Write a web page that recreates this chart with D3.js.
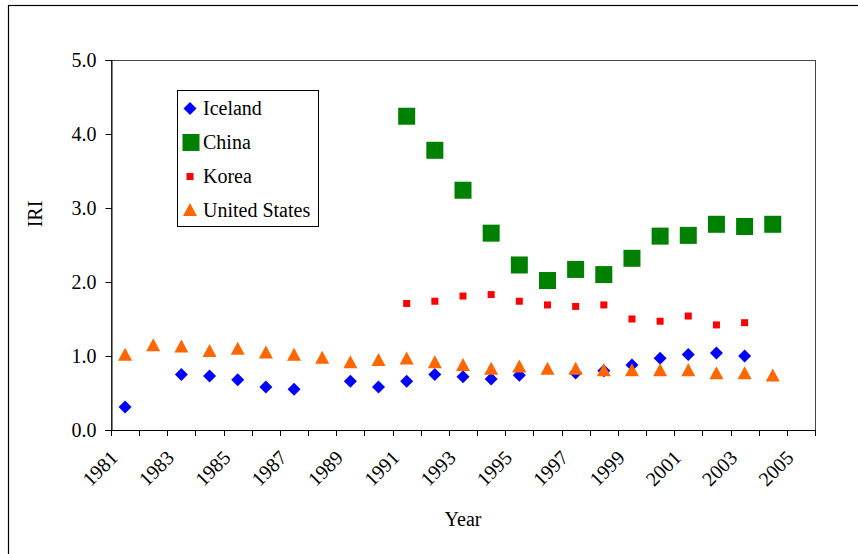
<!DOCTYPE html>
<html>
<head>
<meta charset="utf-8">
<script src="https://cdn.jsdelivr.net/npm/d3@7"></script>
<style>
  html, body { margin: 0; padding: 0; background: #fff; }
  svg { display: block; }
  svg text { font-family: "Liberation Serif", "Times New Roman", serif !important; fill: #000; }
</style>
</head>
<body>
<svg id="chart" width="858" height="554"></svg>
<script>
// Years on the category axis
const years = d3.range(1981, 2006);
const yearLabels = years.filter(y => (y - 1981) % 2 === 0);

// IRI by country (null = no observation)
const iceland = [0.31, null, 0.75, 0.73, 0.68, 0.58, 0.55, null, 0.66, 0.58, 0.66, 0.75, 0.72,
                 0.69, 0.74, null, 0.77, 0.80, 0.88, 0.97, 1.02, 1.04, 1.00, null, null];
const china   = [null, null, null, null, null, null, null, null, null, null, 4.24, 3.78, 3.24,
                 2.66, 2.23, 2.02, 2.17, 2.10, 2.32, 2.62, 2.63, 2.78, 2.75, 2.78, null];
const korea   = [null, null, null, null, null, null, null, null, null, null, 1.71, 1.74, 1.81,
                 1.83, 1.74, 1.69, 1.67, 1.69, 1.50, 1.47, 1.54, 1.42, 1.45, null, null];
const usa     = [1.01, 1.14, 1.12, 1.06, 1.09, 1.04, 1.01, 0.97, 0.91, 0.94, 0.96, 0.91, 0.87,
                 0.82, 0.85, 0.82, 0.82, 0.80, 0.80, 0.80, 0.80, 0.76, 0.76, 0.73, null];

const yTicks = [0, 1, 2, 3, 4, 5];

const series = [
  { name: "Iceland",       values: iceland, shape: "diamond",  color: "#0000ff" },
  { name: "China",         values: china,   shape: "bigsq",    color: "#008000" },
  { name: "Korea",         values: korea,   shape: "smallsq",  color: "#ff0000" },
  { name: "United States", values: usa,     shape: "triangle", color: "#ff6600" }
];

const FONT = "'Liberation Serif', 'Times New Roman', serif";
const svg = d3.select("#chart");
const plot = { left: 111, right: 815, top: 60, bottom: 430 };

const x = d3.scaleBand().domain(years).range([plot.left, plot.right]).paddingInner(0).paddingOuter(0);
const y = d3.scaleLinear().domain([0, 5]).range([plot.bottom, plot.top]);

// Outer chart frame (runs off the right and bottom edges)
svg.append("rect")
  .attr("x", 8.5).attr("y", 5.5).attr("width", 870).attr("height", 570)
  .attr("fill", "none").attr("stroke", "#000").attr("stroke-width", 1.2);

// Plot-area border
svg.append("rect")
  .attr("x", plot.left + 0.5).attr("y", plot.top + 0.5)
  .attr("width", plot.right - plot.left).attr("height", plot.bottom - plot.top)
  .attr("fill", "#fff").attr("stroke", "#444").attr("stroke-width", 1);

// Y axis
const yAxis = d3.axisLeft(y).tickValues(yTicks).tickFormat(d3.format(".1f")).tickSize(6).tickPadding(9);
const gy = svg.append("g").attr("transform", `translate(${plot.left + 0.5},0)`).call(yAxis)
  .attr("font-family", FONT).attr("font-size", 20);
gy.select(".domain").attr("stroke", "#000");
gy.selectAll(".tick line").attr("stroke", "#000");
gy.selectAll(".tick text").style("font-family", FONT).style("font-size", "20px");

// X axis: tick marks between categories, labels on alternate years
const gx = svg.append("g");
gx.append("line")
  .attr("x1", plot.left).attr("x2", plot.right + 1)
  .attr("y1", plot.bottom + 0.5).attr("y2", plot.bottom + 0.5)
  .attr("stroke", "#000");
const edges = years.map(d => x(d)).concat([x(years[years.length - 1]) + x.bandwidth()]);
gx.selectAll("line.tk").data(edges).join("line").attr("class", "tk")
  .attr("x1", d => Math.round(d) + 0.5).attr("x2", d => Math.round(d) + 0.5)
  .attr("y1", plot.bottom).attr("y2", plot.bottom + 6)
  .attr("stroke", "#000");
gx.selectAll("text.yl").data(yearLabels).join("text").attr("class", "yl")
  .attr("transform", d => `translate(${x(d) + x.bandwidth() / 2 - 6},${plot.bottom + 29}) rotate(-45)`)
  .attr("text-anchor", "end")
  .style("font-family", FONT).style("font-size", "20px")
  .text(d => d);

// Axis titles
svg.append("text")
  .attr("x", (plot.left + plot.right) / 2).attr("y", 526)
  .attr("text-anchor", "middle").style("font-family", FONT).style("font-size", "20px").text("Year");
svg.append("text")
  .attr("transform", "translate(42,214) rotate(-90)")
  .attr("text-anchor", "middle").style("font-family", FONT).style("font-size", "20px").text("IRI");

// Marker drawing
function marker(sel, shape, color) {
  if (shape === "diamond") {
    sel.append("path").attr("d", "M0,-6.5L6.5,0L0,6.5L-6.5,0Z").attr("fill", color);
  } else if (shape === "bigsq") {
    sel.append("rect").attr("x", -8.5).attr("y", -8.5).attr("width", 17).attr("height", 17).attr("fill", color);
  } else if (shape === "smallsq") {
    sel.append("rect").attr("x", -3.5).attr("y", -3.5).attr("width", 7).attr("height", 7).attr("fill", color);
  } else {
    sel.append("path").attr("d", "M0,-7.5L7,5.5L-7,5.5Z").attr("fill", color);
  }
}

const cx = d => x(d) + x.bandwidth() / 2;
series.forEach(s => {
  const pts = years.map((yr, i) => ({ yr, v: s.values[i] })).filter(p => p.v != null);
  const g = svg.append("g").attr("class", "series");
  g.selectAll("g").data(pts).join("g")
    .attr("transform", p => `translate(${cx(p.yr)},${y(p.v)})`)
    .each(function () { marker(d3.select(this), s.shape, s.color); });
});

// Legend
const lg = svg.append("g");
lg.append("rect")
  .attr("x", 177.5).attr("y", 90.5).attr("width", 141).attr("height", 136)
  .attr("fill", "#fff").attr("stroke", "#000");
series.forEach((s, i) => {
  const cy = 108.5 + i * 34;
  const m = lg.append("g").attr("transform", `translate(${s.shape === "bigsq" ? 191 : 190},${cy})`);
  marker(m, s.shape, s.color);
  lg.append("text").attr("x", 203).attr("y", cy + 6.5)
    .style("font-family", FONT).style("font-size", "20px").text(s.name);
});
</script>
</body>
</html>
